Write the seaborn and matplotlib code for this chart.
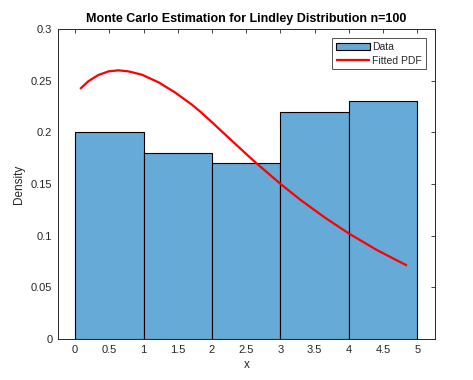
import numpy as np
import pandas as pd
import matplotlib
matplotlib.use('Agg')
import matplotlib.pyplot as plt
import seaborn as sns

# ---- data ----
bin_edges = [0, 1, 2, 3, 4, 5]
bin_density = [0.20, 0.18, 0.17, 0.22, 0.23]

pdf_x = [0.073, 0.195, 0.34, 0.49, 0.63, 0.78, 0.975, 1.22, 1.46, 1.71,
         1.83, 2.0, 2.22, 2.61, 3.0, 3.29, 3.65, 4.01, 4.41, 4.85]
pdf_y = [0.2420, 0.2495, 0.2555, 0.2590, 0.2600, 0.2590, 0.2558, 0.2484,
         0.2386, 0.2266, 0.2200, 0.2098, 0.1962, 0.1724, 0.1502, 0.1348,
         0.1175, 0.1017, 0.0861, 0.0711]

x_ticks = [0, 0.5, 1, 1.5, 2, 2.5, 3, 3.5, 4, 4.5, 5]
y_ticks = [0, 0.05, 0.1, 0.15, 0.2, 0.25, 0.3]

sns.set_style('white')
plt.rcParams['font.family'] = ['Liberation Sans', 'DejaVu Sans']
axis_col = '#262626'

fig = plt.figure(figsize=(4.73, 3.8), dpi=100)
ax = fig.add_axes([0.1226, 0.1079, 0.7971, 0.8158])

centers = [(a + b) / 2 for a, b in zip(bin_edges[:-1], bin_edges[1:])]
hist_df = pd.DataFrame({'x': centers, 'w': bin_density})
sns.histplot(data=hist_df, x='x', weights='w', bins=bin_edges, stat='count',
             color='#66aad7', alpha=1, edgecolor='black', linewidth=0.8,
             ax=ax)

pdf_df = pd.DataFrame({'x': pdf_x, 'y': pdf_y})
sns.lineplot(data=pdf_df, x='x', y='y', color='red', linewidth=1.6,
             ax=ax, solid_joinstyle='round', solid_capstyle='butt')

ax.set_xlim(-0.25, 5.26)
ax.set_ylim(0, 0.3)
ax.set_xticks(x_ticks)
ax.set_yticks(y_ticks)
ax.set_xticklabels([f'{v:g}' for v in x_ticks])
ax.set_yticklabels([f'{v:g}' for v in y_ticks])
ax.tick_params(direction='in', top=True, right=True, length=3, width=0.6,
               labelsize=8, colors=axis_col, pad=4)
for s in ax.spines.values():
    s.set_visible(True)
    s.set_color(axis_col)
    s.set_linewidth(0.7)

ax.set_xlabel('x', fontsize=8.5, color=axis_col, labelpad=3)
ax.set_ylabel('Density', fontsize=8.5, color=axis_col, labelpad=4)
ax.set_title('Monte Carlo Estimation for Lindley Distribution n=100',
             fontsize=9, fontweight='bold', color='black', pad=5)

handles = [ax.patches[0], ax.lines[0]]
leg = ax.legend(handles, ['Data', 'Fitted PDF'], loc='upper right',
                fontsize=7.5, frameon=True, fancybox=False,
                edgecolor=axis_col, borderpad=0.35, handlelength=3.3,
                handletextpad=0.2, labelspacing=0.35, borderaxespad=0.9)
leg.get_frame().set_linewidth(0.7)

fig.savefig('out.png', dpi=100)
